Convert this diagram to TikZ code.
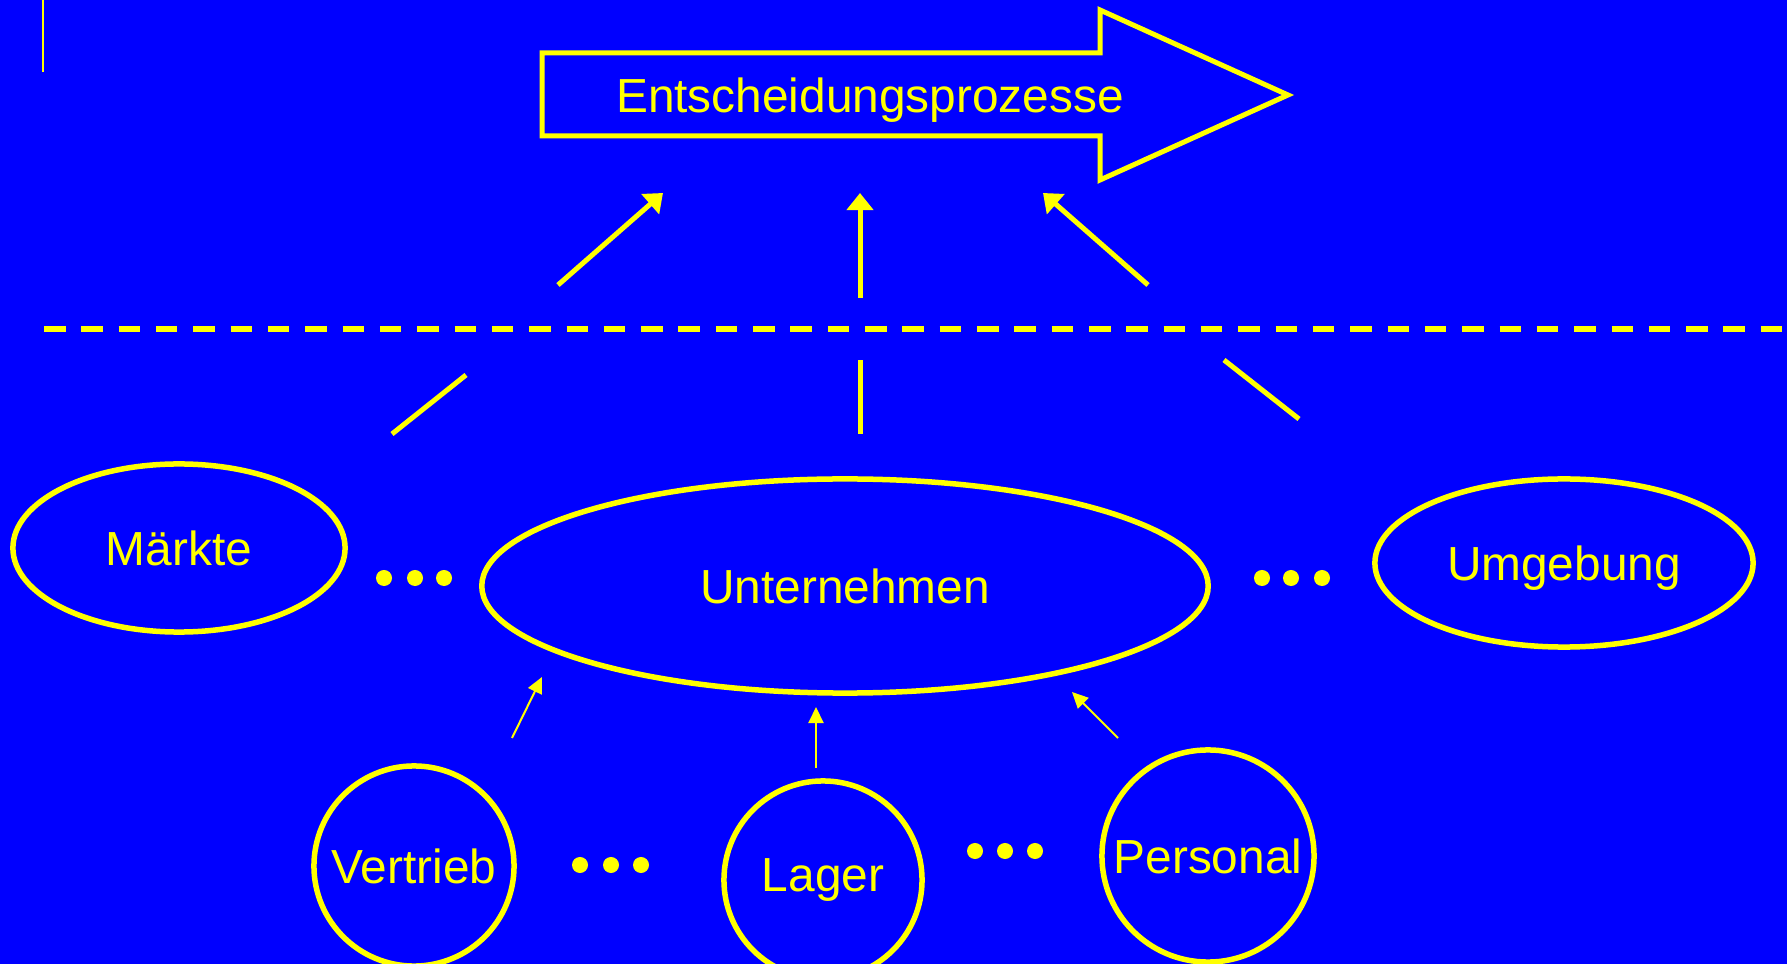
\documentclass[tikz,border=0pt]{standalone}
\usepackage{fontspec}
\setmainfont{Liberation Sans}
\usetikzlibrary{shapes.geometric,arrows.meta}
\definecolor{bgblue}{RGB}{0,0,255}
\definecolor{ylw}{RGB}{255,255,0}

\begin{document}
\begin{tikzpicture}[x=0.01cm,y=-0.01cm,
  every node/.style={font=\fontsize{13.6pt}{16pt}\selectfont, text=ylw},
  unit/.style={draw=ylw, line width=0.055cm, ellipse, inner sep=0pt},
  link/.style={draw=ylw, line width=0.05cm},
  bigarrow/.style={link, -{Triangle[length=0.17cm,width=0.26cm]}},
  smallarrow/.style={draw=ylw, line width=0.02cm, -{Triangle[length=0.16cm,width=0.15cm]}},
  dot/.style={fill=ylw}]
\useasboundingbox (0,0) rectangle (1787,964);
\fill[bgblue] (0,0) rectangle (1787,964);
\draw[ylw, line width=0.02cm] (43,0) -- (43,72);

% Entscheidungsprozesse
\draw[link, line join=miter] (542,53) -- (1100,53) -- (1100,10) -- (1288,95)
  -- (1100,180) -- (1100,136) -- (542,136) -- cycle;
\node[anchor=base] (prozesse) at (870,113) {Entscheidungsprozesse};

\draw[link, line width=0.055cm, dash pattern=on 0.215cm off 0.158cm] (44,329) -- (1787,329);

% obere Ebene
\node[unit, minimum width=3.32cm, minimum height=1.68cm, label=center:Märkte] (maerkte) at (179,548) {};
\node[unit, minimum width=7.26cm, minimum height=2.14cm, label=center:Unternehmen] (unternehmen) at (845,586) {};
\node[unit, minimum width=3.78cm, minimum height=1.68cm, label={[text depth=0pt]center:Umgebung}] (umgebung) at (1564,563) {};

% untere Ebene
\node[unit, minimum width=2.00cm, minimum height=2.00cm, label=center:Vertrieb] (vertrieb) at (414,866) {};
\node[unit, minimum width=1.98cm, minimum height=1.98cm, label=center:Lager] (lager) at (823,880) {};
\node[unit, minimum width=2.12cm, minimum height=2.12cm, label={[text depth=0pt]center:Personal}] (personal) at (1208,856) {};

\foreach \x in {384,415,444} \fill[dot] (\x,578) circle (0.08cm);
\foreach \x in {1262,1291,1322} \fill[dot] (\x,578) circle (0.08cm);
\foreach \x in {580,611,641} \fill[dot] (\x,865) circle (0.08cm);
\foreach \x in {975,1005,1035} \fill[dot] (\x,851) circle (0.08cm);

% Pfeile zu den Entscheidungsprozessen
\coordinate (up1) at (558,285); \coordinate (tip1) at (663,193);
\coordinate (up2) at (860,298); \coordinate (tip2) at (860,193);
\coordinate (up3) at (1148,285); \coordinate (tip3) at (1043,193);
\draw[bigarrow] (up1) -- (tip1);
\draw[bigarrow] (up2) -- (tip2);
\draw[bigarrow] (up3) -- (tip3);

\coordinate (lo1) at (392,434); \coordinate (hi1) at (466,375);
\coordinate (lo2) at (860,434); \coordinate (hi2) at (860,360);
\coordinate (lo3) at (1299,419); \coordinate (hi3) at (1224,360);
\draw[link] (lo1) -- (hi1);
\draw[link] (lo2) -- (hi2);
\draw[link] (lo3) -- (hi3);

% Pfeile zum Unternehmen
\coordinate (sv) at (512,738); \coordinate (ev) at (542,677);
\coordinate (sl) at (816,768); \coordinate (el) at (816,707);
\coordinate (sp) at (1118,738); \coordinate (ep) at (1072,692);
\draw[smallarrow] (sv) -- (ev);
\draw[smallarrow] (sl) -- (el);
\draw[smallarrow] (sp) -- (ep);
\end{tikzpicture}
\end{document}
